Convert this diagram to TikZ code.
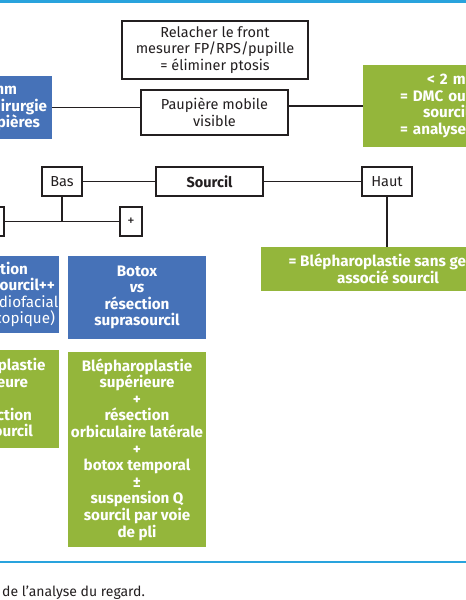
\documentclass[tikz,border=0pt]{standalone}
\usepackage{fontspec}
\setmainfont{Fira Sans}
\definecolor{blueb}{RGB}{70,114,184}
\definecolor{greenb}{RGB}{148,182,59}
\definecolor{rulec}{RGB}{41,163,221}
\definecolor{ink}{RGB}{35,31,32}
\newcommand{\pd}[1]{\rule{#1pt}{0pt}}
\begin{document}
\begin{tikzpicture}[x=1pt,y=-1pt,
  every node/.style={font=\fontsize{14.5}{16.6}\selectfont},
  wbox/.style={draw=ink, line width=1.4pt, fill=white, text=ink, inner sep=0pt, align=center},
  fbox/.style={inner sep=0pt, text=white, font=\fontsize{15.2}{16.6}\selectfont\bfseries},
  conn/.style={draw=ink, line width=1.4pt}]
\useasboundingbox (0,0) rectangle (466,600);
\clip (0,0) rectangle (466,600);
\fill[white] (0,0) rectangle (466,600);
% rules
\draw[rulec, line width=2.5pt] (0,1.5) -- (466,1.5);
\draw[rulec, line width=1.6pt] (0,562) -- (466,562);
% top row
\node[wbox, minimum width=186, minimum height=58] (front) at (215,50) {Relacher le front\\mesurer FP/RPS/pupille\\= éliminer ptosis};
\node[wbox, minimum width=147, minimum height=45] (paup) at (214.5,112.5) {Paupière mobile\\visible};
\node[fbox, fill=blueb, text width=112pt, align=right, inner xsep=5pt, minimum height=63] (gt) at (-9,107.5) {> 2 mm\pd{30}\\= chirurgie\\paupières\pd{7}};
\node[fbox, fill=greenb, text width=93pt, align=left, inner xsep=37pt, minimum height=82] (lt) at (446.5,106) {\pd{27}< 2 mm\\= DMC ou\\\pd{23}sourcil\\= analyse};
\draw[conn] (gt.east) -- (gt.east -| paup.west);
\draw[conn] (lt.west -| paup.east) -- (lt.west);
% second row
\node[wbox, minimum width=40, minimum height=29] (bas) at (62,181.5) {Bas};
\node[wbox, minimum width=107, minimum height=29, font=\fontsize{14.5}{16.6}\selectfont\bfseries] (sourcil) at (209.5,181.5) {Sourcil};
\node[wbox, minimum width=50, minimum height=29] (haut) at (387,181.5) {Haut};
\node[fbox, fill=greenb, minimum width=254, minimum height=44, align=center] (bsg) at (388,269) {= Blépharoplastie sans geste\\associé sourcil};
\node[wbox, minimum width=22, minimum height=29] (minus) at (-7,221.5) {};
\node[wbox, minimum width=22, minimum height=29] (plus) at (131,221.5) {+};
\coordinate (j) at (62,221.5);
\draw[conn] (bas) -- (sourcil);
\draw[conn] (sourcil) -- (haut);
\draw[conn] (haut.south) -- (haut.south |- bsg.north);
\draw[conn] (bas.south) -- (j);
\draw[conn] (minus) -- (j) -- (plus);
% third row
\node[fbox, fill=blueb, text width=145pt, align=right, inner xsep=-3pt, minimum height=77] (susp) at (-10.5,294.5) {Correction\pd{34}\\sourcil++\pd{7}\\\mdseries (radiofacial,\\endoscopique)\pd{7}};
\node[fbox, fill=blueb, minimum width=138, minimum height=83, align=center] (botox) at (137,297.5) {Botox\\\textit{vs}\\résection\\suprasourcil};
% fourth row
\node[fbox, fill=greenb, text width=109pt, align=right, inner xsep=15pt, minimum height=98] (blsup) at (-10.5,399) {Blépharoplastie\\supérieure\pd{16}\\+\pd{50}\\résection\pd{12}\\suprasourcil\pd{11}};
\node[fbox, fill=greenb, minimum width=138, minimum height=195, align=center] (blorb) at (137,449.5) {Blépharoplastie\\supérieure\\+\\résection\\orbiculaire latérale\\+\\botox temporal\\±\\suspension Q\\sourcil par voie\\de pli};
% caption
\node[anchor=base west, inner sep=0pt, text=ink, font=\fontsize{14}{16}\selectfont] (cap) at (2,596) {de l’analyse du regard.};
\end{tikzpicture}
\end{document}
